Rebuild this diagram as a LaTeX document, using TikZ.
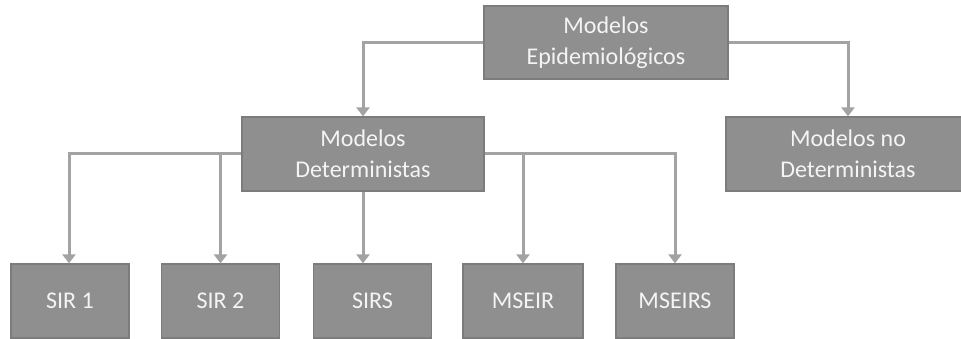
\documentclass[tikz,border=0pt]{standalone}
\usepackage{fontspec}
\setmainfont{Carlito}
\usepackage{tikz}
\usetikzlibrary{arrows.meta,positioning}

\definecolor{boxgray}{HTML}{8F8F8F}
\definecolor{edgegray}{HTML}{7C7C7C}
\definecolor{linegray}{HTML}{A3A3A3}
\definecolor{textwhite}{HTML}{F4F4F4}

\tikzset{
  modelbox/.style={draw=edgegray,line width=1.2pt,fill=boxgray,
    text=textwhite,align=center,font=\fontsize{24}{31}\selectfont,
    minimum width=244pt,minimum height=73pt,inner sep=0pt},
  leafbox/.style={modelbox,minimum width=118pt,minimum height=74pt},
  link/.style={draw=linegray,line width=3pt,
    -{Triangle[width=13pt,length=9pt]}},
}

\begin{document}
\begin{tikzpicture}[x=1pt,y=-1pt]
\useasboundingbox (0,0) rectangle (961,339);

% upper levels
\node[modelbox] (epi) at (606,42.5) {Modelos\\Epidemiológicos};
\node[modelbox,minimum width=242pt,minimum height=74pt] (det) at (363,154) {Modelos\\Deterministas};
\node[modelbox,minimum height=74pt] (nodet) at (848,154) {Modelos no\\Deterministas};

% deterministic models
\node[leafbox] (sir1) at (70,301) {SIR 1};
\node[leafbox] (sir2) at (220.5,301) {SIR 2};
\node[leafbox] (sirs) at (372.5,301) {SIRS};
\node[leafbox,minimum width=120pt] (mseir) at (523,301) {MSEIR};
\node[leafbox] (mseirs) at (675,301) {MSEIRS};

\draw[link] (epi.west) -| (det.north);
\draw[link] (epi.east) -| (nodet.north);

\draw[link] (det.west) -| ([xshift=-1pt]sir1.north);
\draw[link] (det.west -| sir2.north) -- (sir2.north);
\draw[link] (det.south) -- (det.south |- sirs.north);
\draw[link] (det.east) -| (mseirs.north);
\draw[link] (det.east -| mseir.north) -- (mseir.north);
\end{tikzpicture}
\end{document}
